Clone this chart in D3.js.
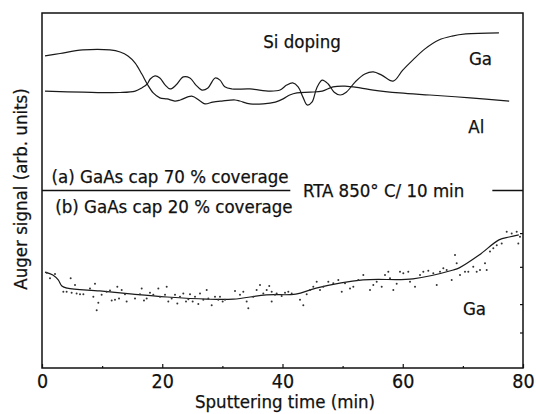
<!DOCTYPE html>
<html>
<head>
<meta charset="utf-8">
<script src="https://cdn.jsdelivr.net/npm/d3@7"></script>
<style>
  body { margin: 0; background: #fff; }
  text { font-family: "DejaVu Sans Condensed", "DejaVu Sans", sans-serif; fill: #111; stroke: #111; stroke-width: 0.25px; }
</style>
</head>
<body>
<svg id="drawing_region"></svg>
<script>
// (a) 70 % coverage: the two Auger profiles, [time (min), signal (arb.)]
const curveHighStart = [
    [0.5,8.79],[3.0,8.86],[6.8,8.96],[11.3,8.96],[13.0,8.90],[14.3,8.79],[15.5,8.59],[16.6,8.28],
    [17.5,8.00],[18.5,7.75],[19.6,7.61],[20.8,7.58],[22.1,7.52],[23.0,7.55],[24.9,7.66],[26.3,7.52],
    [27.1,7.44],[28.4,7.49],[29.9,7.52],[32.1,7.55],[32.9,7.52],[34.6,7.44],[36.8,7.44],[38.8,7.49],
    [40.1,7.58],[41.2,7.69],[42.4,7.75],[44.6,7.77],[46.6,7.80],[48.4,7.92],[50.4,7.94],[52.9,7.89],
    [55.1,7.83],[59.5,7.75],[64.5,7.69],[71.2,7.61],[77.7,7.52]
];
const curveLowStart = [
    [0.5,7.80],[6.8,7.77],[13.0,7.76],[15.5,7.80],[16.6,7.89],[17.5,8.00],[18.0,8.14],[18.8,8.23],
    [19.6,8.17],[20.5,7.97],[21.3,7.86],[22.3,7.97],[23.5,8.20],[24.6,8.17],[25.6,7.97],[26.6,7.83],
    [27.6,7.89],[28.8,8.17],[29.6,8.11],[30.4,7.92],[31.6,7.86],[34.6,7.86],[37.9,7.80],[39.6,7.83],
    [40.7,7.97],[41.7,8.03],[42.6,7.92],[43.4,7.63],[44.1,7.41],[44.9,7.49],[45.7,7.89],[46.6,8.11],
    [47.6,8.00],[48.6,7.77],[49.6,7.69],[50.6,7.77],[52.1,8.06],[53.7,8.28],[55.1,8.34],[56.5,8.25],
    [58.4,8.08],[60.0,8.39],[61.7,8.68],[63.7,8.99],[66.0,9.24],[68.2,9.35],[70.5,9.41],[76.0,9.44]
];

// (b) 20 % coverage: Ga smoothed line and measured points
const gaSmooth = [
    [0.5,2.70],[1.8,2.62],[2.7,2.48],[3.3,2.31],[4.2,2.25],[9.6,2.17],[15.1,2.08],[20.8,2.00],
    [27.4,1.94],[31.8,1.94],[37.3,2.06],[42.2,2.08],[45.6,2.25],[53.4,2.48],[61.7,2.51],[68.4,2.76],
    [69.4,2.82],[72.7,3.18],[76.0,3.61],[77.7,3.69],[79.3,3.75]
];
const gaPoints = [
    [0.78,2.68],[1.33,2.53],[2.16,2.65],[4.77,2.53],[5.49,2.34],[3.55,2.15],[4.10,2.15],[4.93,2.12],
    [5.76,2.10],[6.32,2.08],[6.88,2.08],[7.98,2.24],[8.54,2.01],[8.81,2.37],[9.37,1.84],[9.1,1.63],
    [9.92,2.06],[10.75,2.15],[11.31,2.18],[11.59,1.90],[12.14,1.92],[12.53,2.29],[12.81,1.96],[13.25,2.20],
    [13.80,2.08],[14.08,1.87],[15.47,1.96],[16.30,2.08],[16.58,2.24],[16.96,1.90],[17.41,1.96],[17.96,2.12],
    [18.51,2.06],[19.35,2.24],[19.63,2.01],[20.46,2.06],[20.74,2.29],[21.01,1.87],[21.57,1.96],[22.12,2.06],
    [22.51,1.82],[22.95,2.01],[23.50,2.10],[23.95,1.87],[24.34,1.94],[24.62,2.08],[25.06,1.87],[25.45,2.01],
    [26.00,1.80],[26.28,2.10],[26.83,1.92],[27.39,2.20],[27.66,1.96],[28.22,1.77],[28.77,2.01],[29.32,1.92],
    [29.60,2.01],[30.05,1.87],[30.44,1.92],[32.10,2.17],[32.93,2.06],[33.48,2.15],[34.04,1.87],[34.31,1.68],
    [35.15,2.01],[35.70,2.20],[36.26,2.34],[36.81,2.10],[37.37,2.20],[37.80,2.31],[38.20,1.87],[38.75,2.06],
    [38.20,2.15],[39.03,2.10],[39.86,2.03],[40.42,2.12],[40.97,2.15],[41.53,2.10],[42.91,1.92],[43.46,1.77],
    [44.02,2.08],[44.57,2.20],[45.12,2.29],[45.69,2.43],[46.24,2.20],[46.79,2.29],[47.62,2.43],[48.45,2.39],
    [49.28,2.48],[49.85,2.15],[50.40,2.39],[51.23,2.24],[51.78,2.29],[52.61,2.48],[53.44,2.62],[54.55,2.20],
    [55.10,2.34],[55.67,2.43],[56.50,2.29],[57.05,2.62],[57.60,2.71],[57.88,2.53],[58.43,2.20],[58.99,2.37],
    [59.54,2.71],[60.09,2.67],[60.92,2.71],[61.21,2.43],[62.04,2.29],[62.87,2.62],[63.42,2.71],[64.25,2.74],
    [65.08,2.67],[65.65,2.34],[66.20,2.71],[66.75,2.81],[67.31,2.76],[68.14,2.48],[68.69,3.18],[68.97,2.95],
    [69.52,2.62],[70.35,2.71],[70.90,2.71],[71.73,2.85],[72.30,2.71],[72.85,2.76],[73.68,2.95],[73.96,2.76],
    [74.51,3.28],[75.06,3.37],[75.63,3.46],[76.46,3.51],[77.29,3.84],[78.12,3.79],[78.95,3.84],[79.22,3.51],
    [79.50,3.70]
];

const xLabelTicks = [0, 20, 40, 60, 80];
const xMinorTicks = [10, 30, 50, 70];
const rightTicks = [1.0, 1.8, 2.85, 3.8];

class AugerChart {

    constructor( config ) {
        this.config = {
            parent: config.parent,
            width: config.width || 536,
            height: config.height || 414,
            margin: config.margin || {top:13, right:13, bottom:46, left:42}
        }
        this.init();
    }

    init() {
        let self = this;
        const m = self.config.margin;
        self.inner_width = self.config.width - m.left - m.right;
        self.inner_height = self.config.height - m.top - m.bottom;

        self.svg = d3.select( self.config.parent )
            .attr('width', self.config.width)
            .attr('height', self.config.height);

        self.chart = self.svg.append('g')
            .attr('transform', `translate(${m.left}, ${m.top})`);

        self.xscale = d3.scaleLinear()
            .domain([0, 80])
            .range([0, self.inner_width]);

        self.yscale = d3.scaleLinear()
            .domain([0, 10])
            .range([self.inner_height, 0]);

        self.line = d3.line()
            .x( d => self.xscale(d[0]) )
            .y( d => self.yscale(d[1]) )
            .curve( d3.curveCatmullRom.alpha(0.5) );
    }

    render() {
        let self = this;
        const W = self.inner_width, H = self.inner_height;

        // frame
        self.chart.append('rect')
            .attr('width', W)
            .attr('height', H)
            .attr('fill', 'none')
            .attr('stroke', '#111')
            .attr('stroke-width', 1.5);

        // bottom ticks
        const xaxis = d3.axisBottom(self.xscale)
            .tickValues(xLabelTicks)
            .tickSize(-4)
            .tickPadding(6);
        const xg = self.chart.append('g')
            .attr('transform', `translate(0, ${H})`)
            .call(xaxis);
        xg.select('.domain').remove();
        xg.selectAll('text')
            .style('font-size', '19.5px')
            .style('font-family', '"DejaVu Sans Condensed", sans-serif')
            .attr('fill', '#111');
        xg.selectAll('line').attr('stroke', '#111').attr('stroke-width', 1.2);

        const xminor = self.chart.append('g')
            .attr('transform', `translate(0, ${H})`)
            .call(d3.axisBottom(self.xscale).tickValues(xMinorTicks).tickSize(-2).tickFormat(''));
        xminor.select('.domain').remove();
        xminor.selectAll('line').attr('stroke', '#111').attr('stroke-width', 1.2);

        // right side small ticks, pointing inward
        const rg = self.chart.append('g')
            .attr('transform', `translate(${W}, 0)`)
            .call(d3.axisLeft(self.yscale).tickValues(rightTicks).tickSize(3).tickFormat(''));
        rg.select('.domain').remove();
        rg.selectAll('line').attr('stroke', '#111').attr('stroke-width', 1.2);

        // divider between (a) and (b)
        const ydiv = self.yscale(5);
        self.chart.append('line')
            .attr('x1', self.xscale(0)).attr('x2', self.xscale(41.3))
            .attr('y1', ydiv).attr('y2', ydiv)
            .attr('stroke', '#111').attr('stroke-width', 1.5);
        self.chart.append('line')
            .attr('x1', self.xscale(74.9)).attr('x2', self.xscale(80))
            .attr('y1', ydiv).attr('y2', ydiv)
            .attr('stroke', '#111').attr('stroke-width', 1.5);

        // curves
        [curveHighStart, curveLowStart, gaSmooth].forEach( data => {
            self.chart.append('path')
                .datum(data)
                .attr('d', self.line)
                .attr('fill', 'none')
                .attr('stroke', '#1a1a1a')
                .attr('stroke-width', 1.2);
        });

        self.chart.selectAll('.dot')
            .data(gaPoints)
            .enter()
            .append('circle')
            .attr('class', 'dot')
            .attr('cx', d => self.xscale(d[0]))
            .attr('cy', d => self.yscale(d[1]))
            .attr('r', 1.0)
            .attr('fill', '#333');

        // annotations
        const notes = [
            {t: 36.8, v: 9.01, s: 'Si doping'},
            {t: 71.0, v: 8.53, s: 'Ga'},
            {t: 70.9, v: 6.62, s: 'Al'},
            {t: 1.6,  v: 5.21, s: '(a) GaAs cap 70 % coverage'},
            {t: 43.4, v: 4.82, s: 'RTA 850° C/ 10 min'},
            {t: 2.2,  v: 4.37, s: '(b) GaAs cap 20 % coverage'},
            {t: 70.0, v: 1.49, s: 'Ga'}
        ];
        self.chart.selectAll('.note')
            .data(notes)
            .enter()
            .append('text')
            .attr('class', 'note')
            .attr('x', d => self.xscale(d.t))
            .attr('y', d => self.yscale(d.v))
            .style('font-size', '18.5px')
            .text(d => d.s);

        // axis titles
        self.svg.append('text')
            .attr('x', 285)
            .attr('y', 408)
            .style('text-anchor', 'middle')
            .style('font-size', '18.5px')
            .text('Sputtering time (min)');

        self.svg.append('text')
            .attr('transform', 'translate(27, 189) rotate(-90)')
            .style('text-anchor', 'middle')
            .style('font-size', '18.5px')
            .text('Auger signal (arb. units)');
    }
}

const chart = new AugerChart({ parent: '#drawing_region', width: 536, height: 414 });
chart.render();
</script>
</body>
</html>
